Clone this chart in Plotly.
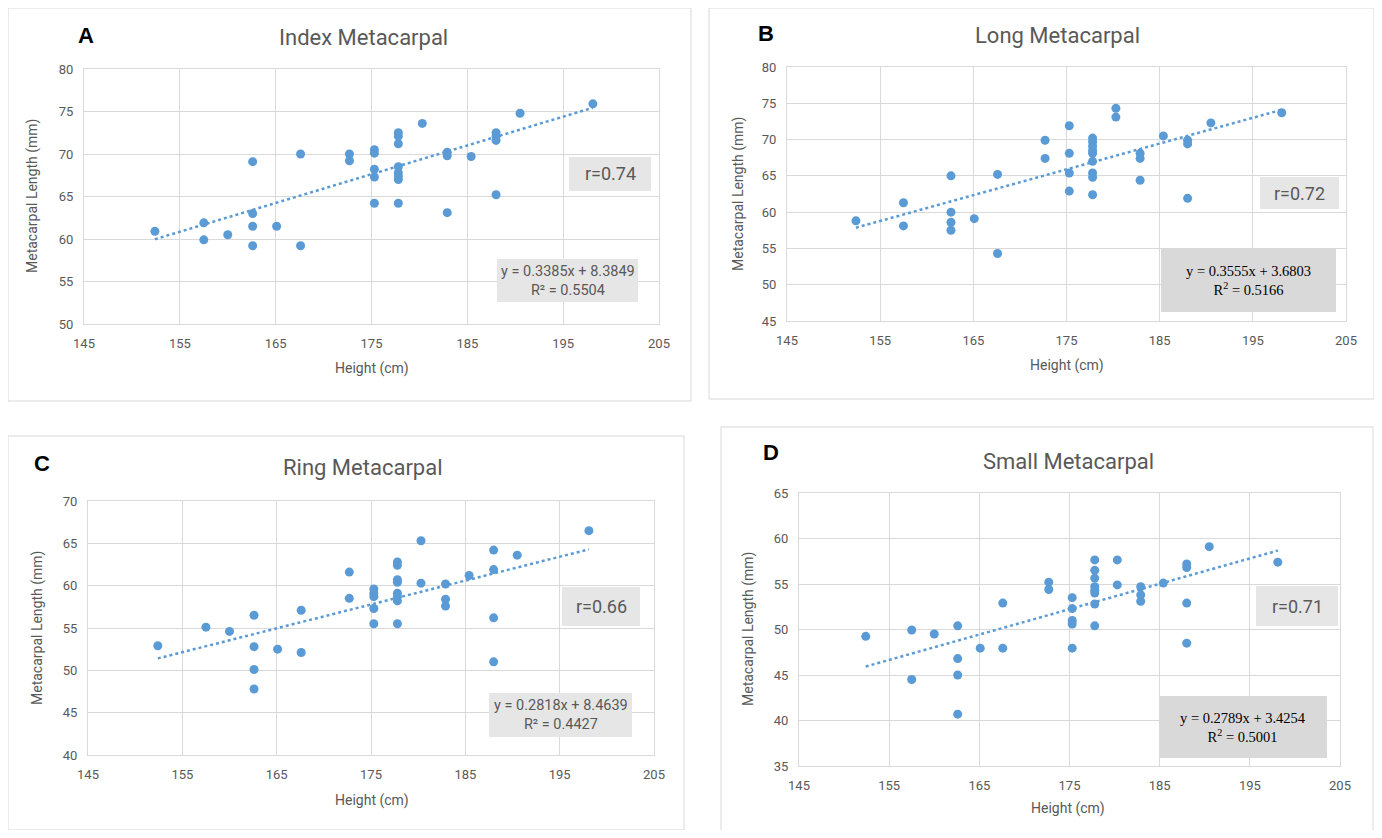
import plotly.graph_objects as go

# page body has an 8px margin: figure is sized/offset so the picture lands on the 1382x838 window
OFF = 8
W, H = 1382 - 2 * OFF, 838 - 2 * OFF

# ---------------- data ----------------
index_x = [152.4, 157.5, 157.5, 160.0, 162.6, 162.6, 162.6, 162.6, 165.1, 167.6, 167.6,
           172.7, 172.7, 175.3, 175.3, 175.3, 175.3, 175.3,
           177.8, 177.8, 177.8, 177.8, 177.8, 177.8, 177.8, 177.8,
           180.3, 182.9, 182.9, 182.9, 185.4, 188.0, 188.0, 188.0, 188.0, 190.5, 198.1]
index_y = [60.9, 61.9, 59.9, 60.5, 69.1, 63.0, 61.5, 59.2, 61.5, 70.0, 59.2,
           70.0, 69.2, 70.5, 70.1, 68.2, 67.3, 64.2,
           72.5, 72.1, 71.2, 68.5, 67.8, 67.4, 67.0, 64.2,
           73.6, 70.2, 69.8, 63.1, 69.7, 72.5, 72.1, 71.6, 65.2, 74.8, 75.9]

long_x = [152.4, 157.5, 157.5, 162.6, 162.6, 162.6, 162.6, 165.1, 167.6, 167.6,
          172.7, 172.7, 175.3, 175.3, 175.3, 175.3,
          177.8, 177.8, 177.8, 177.8, 177.8, 177.8, 177.8, 177.8, 177.8,
          180.3, 180.3, 182.9, 182.9, 182.9, 185.4, 188.0, 188.0, 188.0, 190.5, 198.1]
long_y = [58.8, 61.3, 58.1, 65.0, 60.0, 58.6, 57.5, 59.1, 65.2, 54.3,
          69.9, 67.4, 71.9, 68.1, 65.4, 62.9,
          70.2, 69.7, 69.1, 68.5, 68.1, 67.0, 65.4, 64.8, 62.4,
          74.3, 73.1, 68.1, 67.4, 64.4, 70.5, 69.9, 69.4, 61.9, 72.3, 73.7]

ring_x = [152.4, 157.5, 160.0, 162.6, 162.6, 162.6, 162.6, 165.1, 167.6, 167.6,
          172.7, 172.7, 175.3, 175.3, 175.3, 175.3, 175.3,
          177.8, 177.8, 177.8, 177.8, 177.8, 177.8, 177.8, 177.8,
          180.3, 180.3, 182.9, 182.9, 182.9, 185.4, 188.0, 188.0, 188.0, 188.0, 190.5, 198.1]
ring_y = [52.9, 55.1, 54.6, 56.5, 52.8, 50.1, 47.8, 52.5, 57.1, 52.1,
          61.6, 58.5, 59.6, 59.1, 58.7, 57.3, 55.5,
          62.8, 62.4, 60.7, 60.4, 59.1, 58.7, 58.2, 55.5,
          65.3, 60.3, 60.2, 58.4, 57.6, 61.2, 64.2, 61.9, 56.2, 51.0, 63.6, 66.5]

small_x = [152.4, 157.5, 157.5, 160.0, 162.6, 162.6, 162.6, 162.6, 165.1, 167.6, 167.6,
           172.7, 172.7, 175.3, 175.3, 175.3, 175.3, 175.3,
           177.8, 177.8, 177.8, 177.8, 177.8, 177.8, 177.8, 177.8,
           180.3, 180.3, 182.9, 182.9, 182.9, 185.4, 188.0, 188.0, 188.0, 188.0, 190.5, 198.1]
small_y = [49.25, 49.95, 44.5, 49.5, 50.4, 46.8, 45.0, 40.7, 47.95, 52.9, 47.95,
           55.2, 54.4, 53.5, 52.3, 51.0, 50.6, 47.95,
           57.65, 56.5, 55.65, 54.7, 54.3, 54.0, 52.8, 50.4,
           57.65, 54.9, 54.7, 53.8, 53.1, 55.1, 57.2, 56.8, 52.9, 48.5, 59.1, 57.4]

panel_letters = ["A", "B", "C", "D"]
panel_titles = ["Index Metacarpal", "Long Metacarpal", "Ring Metacarpal", "Small Metacarpal"]
slopes = [0.3385, 0.3555, 0.2818, 0.2789]
intercepts = [8.3849, 3.6803, 8.4639, 3.4254]
r2_values = ["0.5504", "0.5166", "0.4427", "0.5001"]
r_values = ["0.74", "0.72", "0.66", "0.71"]
x_range = [145, 205]
x_ticks = [145, 155, 165, 175, 185, 195, 205]
y_ranges = [[50, 80], [45, 80], [40, 70], [35, 65]]
x_title = "Height (cm)"
y_title = "Metacarpal Length (mm)"

xs = [index_x, long_x, ring_x, small_x]
ys = [index_y, long_y, ring_y, small_y]

# ---------------- layout (window pixels) ----------------
areas = [(84, 659, 69, 324), (787, 1346, 67, 321), (88, 654, 501, 755), (799, 1340, 493, 766)]
frames = [(5, 5, 691, 401, True), (709, 2, 1376, 399, True), (5, 436, 684, 831, True), (721, 427, 1373, 838, False)]
letter_pos = [(86, 35), (766, 33), (42, 463), (771, 453)]
title_pos = [(363, 37), (1057, 35), (363, 467), (1068, 461)]
xt_pos = [(372, 368), (1067, 365), (372, 800), (1068, 808)]
yt_pos = [(33, 196), (738, 194), (37, 628), (748, 629)]
r_box = [(569, 157, 651, 191), (1260, 177, 1339, 209), (562, 587, 640, 626), (1256, 586, 1338, 626)]
eq_box = [(497, 259, 638, 302), (1161, 248, 1336, 312), (489, 693, 632, 737), (1159, 696, 1327, 758)]
eq_style = ["sans", "serif", "sans", "serif"]

BLUE = "#5b9bd5"
GRID = "#d9d9d9"
TXT = "#595959"
SANS = "Roboto, Noto Sans, sans-serif"
SERIF = "Liberation Serif, DejaVu Serif, serif"


def px(x):
    return min(max((x - OFF) / W, 0), 1)


def py(y):
    return min(max(1 - (y - OFF) / H, 0), 1)


def note(x, y, text, font, angle=0):
    return dict(x=px(x), y=py(y), xref="paper", yref="paper", text=text,
                showarrow=False, xanchor="center", yanchor="middle",
                align="center", textangle=angle, font=font)


fig = go.Figure()
shapes = []
annotations = []

for i in range(4):
    sfx = "" if i == 0 else str(i + 1)
    xa, ya = "x" + sfx, "y" + sfx
    l, r, t, b = areas[i]

    fig.add_trace(go.Scatter(
        x=xs[i], y=ys[i], mode="markers", xaxis=xa, yaxis=ya,
        marker=dict(color=BLUE, size=9), showlegend=False, hoverinfo="x+y"))

    x0, x1 = min(xs[i]), max(xs[i])
    fig.add_trace(go.Scatter(
        x=[x0, x1], y=[slopes[i] * x0 + intercepts[i], slopes[i] * x1 + intercepts[i]],
        mode="lines", xaxis=xa, yaxis=ya, showlegend=False, hoverinfo="skip",
        line=dict(color=BLUE, width=2.5, dash="dot")))

    common = dict(showgrid=True, gridcolor=GRID, gridwidth=1, zeroline=False,
                  showline=True, linecolor=GRID, linewidth=1, mirror=True,
                  ticks="outside", ticklen=7, tickcolor="rgba(0,0,0,0)",
                  automargin=False,
                  tickfont=dict(family=SANS, size=13, color=TXT))
    fig.layout["xaxis" + sfx] = dict(
        domain=[px(l), px(r)], range=x_range, tickvals=x_ticks,
        anchor=ya, **common)
    fig.layout["yaxis" + sfx] = dict(
        domain=[py(b), py(t)], range=y_ranges[i], dtick=5,
        anchor=xa, **common)

    # panel frame (open at the bottom when it runs off the page)
    fx0, fy0, fx1, fy1, closed = frames[i]
    X0, X1, Y0, Y1 = px(fx0), px(fx1), py(fy1), py(fy0)
    if closed:
        path = "M %f %f L %f %f L %f %f L %f %f Z" % (X0, Y0, X0, Y1, X1, Y1, X1, Y0)
    else:
        path = "M %f %f L %f %f L %f %f L %f %f" % (X0, Y0, X0, Y1, X1, Y1, X1, Y0)
    shapes.append(dict(type="path", xref="paper", yref="paper", path=path,
                       line=dict(color=GRID, width=1), fillcolor="rgba(0,0,0,0)", layer="below"))

    bx0, by0, bx1, by1 = r_box[i]
    shapes.append(dict(type="rect", xref="paper", yref="paper",
                       x0=px(bx0), x1=px(bx1), y0=py(by1), y1=py(by0),
                       line=dict(width=0), fillcolor="#e7e6e6", layer="above"))
    annotations.append(note((bx0 + bx1) / 2, (by0 + by1) / 2, "r=" + r_values[i],
                            dict(family=SANS, size=18, color=TXT)))

    ex0, ey0, ex1, ey1 = eq_box[i]
    if eq_style[i] == "sans":
        efill, efont = "#e7e6e6", dict(family=SANS, size=14.5, color=TXT)
        eqtext = "y = %.4fx + %.4f<br>R² = %s" % (slopes[i], intercepts[i], r2_values[i])
    else:
        efill, efont = "#d9d9d9", dict(family=SERIF, size=14.5, color="#000000")
        eqtext = "y = %.4fx + %.4f<br>R<sup>2</sup> = %s" % (slopes[i], intercepts[i], r2_values[i])
    shapes.append(dict(type="rect", xref="paper", yref="paper",
                       x0=px(ex0), x1=px(ex1), y0=py(ey1), y1=py(ey0),
                       line=dict(width=0), fillcolor=efill, layer="above"))
    annotations.append(note((ex0 + ex1) / 2, (ey0 + ey1) / 2, eqtext, efont))

    annotations.append(note(letter_pos[i][0], letter_pos[i][1], "<b>" + panel_letters[i] + "</b>",
                            dict(family="Liberation Sans, Arial, sans-serif", size=22, color="#000000")))
    annotations.append(note(title_pos[i][0], title_pos[i][1], panel_titles[i],
                            dict(family=SANS, size=22, color=TXT)))
    annotations.append(note(xt_pos[i][0], xt_pos[i][1], x_title,
                            dict(family=SANS, size=14, color=TXT)))
    annotations.append(note(yt_pos[i][0], yt_pos[i][1], y_title,
                            dict(family=SANS, size=14, color=TXT), angle=-90))

fig.update_layout(
    width=W, height=H, margin=dict(l=0, r=0, t=0, b=0, pad=0),
    paper_bgcolor="white", plot_bgcolor="white",
    shapes=shapes, annotations=annotations, showlegend=False,
)

fig.write_html("out.html")
